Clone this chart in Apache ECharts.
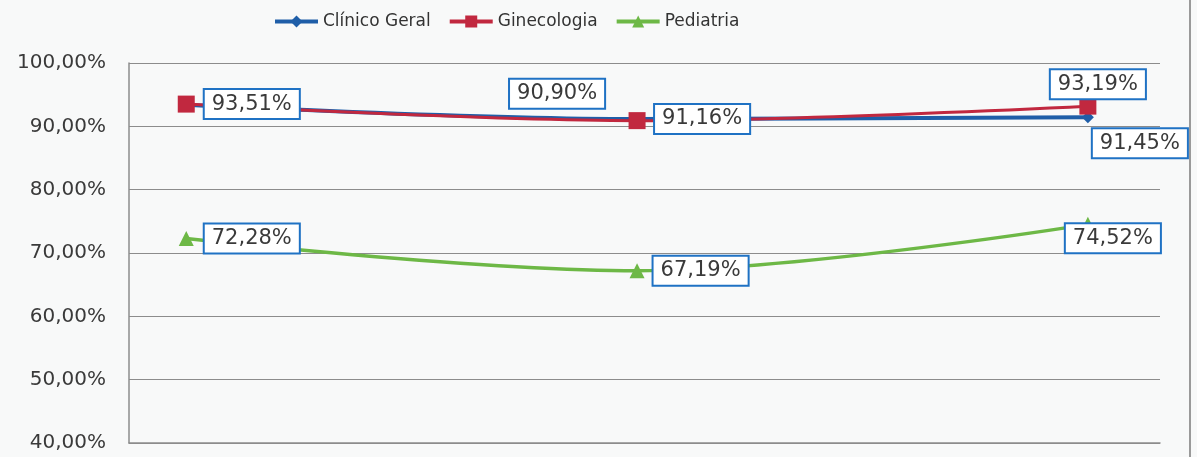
<!DOCTYPE html>
<html>
<head>
<meta charset="utf-8">
<script src="https://cdn.jsdelivr.net/npm/echarts@6/dist/echarts.min.js"></script>
<style>
  html, body { margin: 0; padding: 0; background: #f8f9f9; }
  #chart { width: 1197px; height: 457px; }
</style>
</head>
<body>
<div id="chart"></div>
<script>
// data (x labels are cut off in the source)
var categories = ["1", "2", "3"];
var clinicoGeral = [93.4, 91.16, 91.45];
var ginecologia = [93.51, 90.90, 93.19];
var pediatria = [72.28, 67.19, 74.52];
var yTicks = { min: 40, max: 100, step: 10 };

var chart = echarts.init(document.getElementById("chart"));

function pct(v) {
  return v.toFixed(2).replace(".", ",") + "%";
}

var boxLabel = {
  show: true,
  formatter: function (p) { return pct(p.value[1]); },
  color: "#3a3a3a",
  fontFamily: "DejaVu Sans",
  fontSize: 21,
  lineHeight: 23,
  backgroundColor: "#fff",
  borderColor: "#1f72c4",
  borderWidth: 2,
  padding: [3, 7, 2, 7]
};

// label placement per point: null = no label
var labelPos = {
  clinico: [null, { position: "right", distance: 12 }, { position: "inside", offset: [52, 26] }],
  gineco: [{ position: "right", distance: 10 }, { position: "inside", offset: [-80, -27] }, { position: "inside", offset: [10, -22] }],
  pedia: [{ position: "right", distance: 11 }, { position: "right", distance: 9 }, { position: "inside", offset: [25, 14] }]
};

function buildData(values, pos) {
  return categories.map(function (c, i) {
    var item = { value: [i, values[i]] };
    item.label = pos[i] ? Object.assign({}, boxLabel, pos[i]) : { show: false };
    return item;
  });
}

var option = {
  backgroundColor: "#f8f9f9",
  animation: false,
  legend: {
    top: 8,
    left: 268,
    itemGap: 17,
    itemWidth: 43,
    itemHeight: 15,
    lineStyle: { width: 4 },
    textStyle: { fontFamily: "DejaVu Sans", fontSize: 17, color: "#333" },
    data: ["Clínico Geral", "Ginecologia", "Pediatria"]
  },
  grid: { left: 129, right: 37, top: 63, bottom: 14 },
  xAxis: {
    type: "value",
    min: -0.127,
    max: 2.16,
    axisLine: { show: true, onZero: false, lineStyle: { color: "#8c8c8c", width: 1.5 } },
    axisTick: { show: false },
    axisLabel: { show: false },
    splitLine: { show: false }
  },
  yAxis: {
    type: "value",
    min: yTicks.min,
    max: yTicks.max,
    interval: yTicks.step,
    axisLine: { show: true, onZero: false, lineStyle: { color: "#8c8c8c", width: 1.5 } },
    axisTick: { show: false },
    axisLabel: {
      formatter: function (v) { return pct(v); },
      fontFamily: "DejaVu Sans",
      fontSize: 20,
      color: "#3a3a3a",
      margin: 23
    },
    splitLine: { lineStyle: { color: "#8c8c8c", width: 1.2 } }
  },
  series: [
    {
      name: "Clínico Geral",
      type: "line",
      smooth: 0.35,
      symbol: "diamond",
      symbolSize: 12,
      itemStyle: { color: "#1f5ea8" },
      lineStyle: { width: 4, color: "#1f5ea8" },
      data: buildData(clinicoGeral, labelPos.clinico)
    },
    {
      name: "Ginecologia",
      type: "line",
      smooth: 0.35,
      symbol: "rect",
      symbolSize: 17,
      itemStyle: { color: "#c1283f" },
      lineStyle: { width: 3, color: "#c1283f" },
      data: buildData(ginecologia, labelPos.gineco)
    },
    {
      name: "Pediatria",
      type: "line",
      smooth: 0.35,
      symbol: "triangle",
      symbolSize: 15,
      itemStyle: { color: "#6db846" },
      lineStyle: { width: 3.5, color: "#6db846" },
      data: buildData(pediatria, labelPos.pedia)
    }
  ],
  graphic: [
    {
      type: "line",
      shape: { x1: 1190, y1: 0, x2: 1190, y2: 457 },
      style: { stroke: "#9a9a9a", lineWidth: 2 }
    }
  ]
};

chart.setOption(option);
</script>
</body>
</html>
